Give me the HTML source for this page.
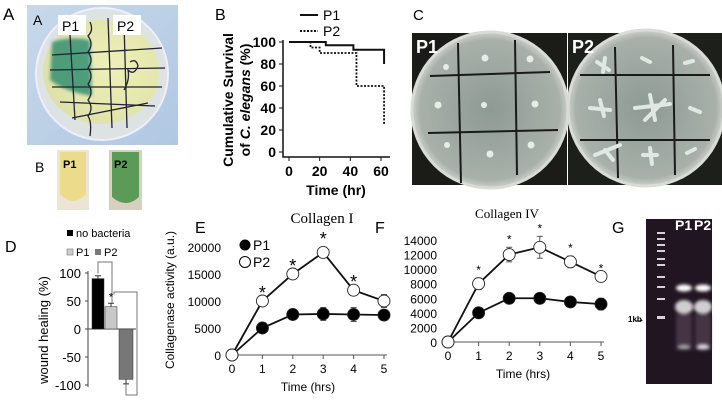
<!DOCTYPE html>
<html><head><meta charset="utf-8"><style>
html,body{margin:0;padding:0;background:#fff;width:722px;height:400px;overflow:hidden}
svg{display:block;font-family:"Liberation Sans",sans-serif}
.serif{font-family:"Liberation Serif",serif}
</style></head><body>
<svg id="fig" width="722" height="400" viewBox="0 0 722 400" xmlns="http://www.w3.org/2000/svg">
<defs>
<radialGradient id="agarA" cx="0.6" cy="0.45" r="0.6"><stop offset="0" stop-color="#eef0b8"/><stop offset="1" stop-color="#dfe2a8"/></radialGradient>
<linearGradient id="bgA" x1="0" y1="0" x2="1" y2="1"><stop offset="0" stop-color="#c8d8ea"/><stop offset="1" stop-color="#b0c8e2"/></linearGradient>
<radialGradient id="plateC" cx="0.5" cy="0.5" r="0.5"><stop offset="0" stop-color="#8e9a94"/><stop offset="0.9" stop-color="#a9b0aa"/><stop offset="1" stop-color="#cdd0ca"/></radialGradient>
<filter id="blur1"><feGaussianBlur stdDeviation="1.5"/></filter>
</defs>

<g>
<text x="3" y="20" font-size="17">A</text>
<rect x="27" y="5" width="151" height="140" fill="url(#bgA)"/>
<circle cx="102" cy="74" r="66" fill="#dde3e2" stroke="#eef" stroke-width="2"/>
<ellipse cx="101" cy="72" rx="58" ry="52" fill="url(#agarA)"/>
<path d="M52,42 Q70,36 90,40 L92,96 Q65,92 50,80 Z" fill="#2a8a6e" opacity="0.8" filter="url(#blur1)"/>
<g stroke="#223" stroke-width="1.3" fill="none">
<line x1="52" y1="55" x2="162" y2="48"/><line x1="50" y1="70" x2="165" y2="68"/><line x1="52" y1="87" x2="162" y2="87"/><line x1="60" y1="102" x2="155" y2="106"/><line x1="72" y1="118" x2="148" y2="103"/>
<line x1="70" y1="35" x2="75" y2="120"/><line x1="108" y1="18" x2="112" y2="128"/><line x1="124" y1="23" x2="127" y2="128"/>
<path d="M90,22 q4,8 -2,14 q6,8 0,16 q6,8 0,16 q6,8 0,16 q6,8 0,16 q6,8 0,16 q4,6 2,20"/>
<path d="M130,62 q6,-4 8,4 q-4,10 -10,4 q2,10 -4,20"/>
</g>
<text x="33" y="25" font-size="14">A</text>
<rect x="58" y="15" width="28" height="20" fill="#fff"/><text x="62" y="31" font-size="14">P1</text>
<rect x="113" y="15" width="28" height="20" fill="#fff"/><text x="117" y="31" font-size="14">P2</text>
</g>
<g>
<text x="35" y="172" font-size="14">B</text>
<rect x="57" y="150" width="32" height="60" fill="#ece4d4"/>
<path d="M60,152 h26 v42 q-13,14 -26,0 Z" fill="#eddb8c"/>
<text x="63" y="168" font-size="11" font-weight="bold">P1</text>
<rect x="109" y="150" width="33" height="60" fill="#d8cfc0"/>
<path d="M112,152 h27 v45 q-13,12 -27,0 Z" fill="#5c9a58"/>
<text x="114" y="168" font-size="11" font-weight="bold">P2</text>
</g>

<g id="chartB">
<text x="215" y="20" font-size="16">B</text>
<text transform="translate(233,100) rotate(-90)" text-anchor="middle" font-size="14" font-weight="bold">Cumulative Survival</text>
<text transform="translate(250,100) rotate(-90)" text-anchor="middle" font-size="14" font-weight="bold">of <tspan font-style="italic">C. elegans</tspan> (%)</text>
<text x="336" y="195" text-anchor="middle" font-size="14" font-weight="bold">Time (hr)</text>
<line x1="300" y1="15" x2="318" y2="15" stroke="#111" stroke-width="2"/>
<text x="323" y="20" font-size="14">P1</text>
<line x1="300" y1="31" x2="318" y2="31" stroke="#111" stroke-width="2" stroke-dasharray="2,1.5"/>
<text x="323" y="36" font-size="14">P2</text>
</g>

<g>
<text x="413" y="20" font-size="15">C</text>
<rect x="412" y="33" width="155" height="152" fill="#1b1b17"/>
<rect x="568" y="33" width="154" height="152" fill="#1d1f1a"/>
<circle cx="490" cy="110" r="78" fill="url(#plateC)" stroke="#d8dcd6" stroke-width="3"/>
<circle cx="646" cy="108" r="78" fill="url(#plateC)" stroke="#d8dcd6" stroke-width="3"/>
<g stroke="#1a1a1a" stroke-width="2">
<line x1="430" y1="76" x2="550" y2="72"/><line x1="428" y1="133" x2="558" y2="130"/><line x1="458" y1="43" x2="461" y2="183"/><line x1="515" y1="40" x2="517" y2="175"/>
<line x1="580" y1="75" x2="710" y2="75"/><line x1="580" y1="140" x2="710" y2="140"/><line x1="615" y1="47" x2="618" y2="178"/><line x1="673" y1="45" x2="675" y2="175"/>
</g>
<g fill="#e8ece6">
<circle cx="446" cy="67" r="3"/><circle cx="485" cy="58" r="3.5"/><circle cx="530" cy="59" r="3.5"/><circle cx="438" cy="105" r="3.5"/><circle cx="484" cy="105" r="3"/><circle cx="535" cy="104" r="3.5"/><circle cx="447" cy="145" r="3"/><circle cx="490" cy="154" r="3.5"/><circle cx="531" cy="145" r="3.5"/>
</g>
<g stroke="#dfe8e4" stroke-width="4" stroke-linecap="round">
<path d="M597,62 l12,8 M605,58 l-2,14"/><path d="M642,58 l8,4"/><path d="M685,63 l8,-2"/>
<path d="M590,108 l20,2 M600,100 l4,16"/><path d="M635,108 l35,-4 M650,95 l5,25 M645,120 l20,-20"/><path d="M690,108 l10,4"/>
<path d="M595,155 l25,-10 M605,150 l8,10"/><path d="M643,155 l14,0 M650,148 l2,16"/><path d="M687,153 l8,-4"/>
</g>
<text x="416" y="53" font-size="18" font-weight="bold" fill="#fff">P1</text>
<text x="572" y="53" font-size="18" font-weight="bold" fill="#fff">P2</text>
</g>

<g id="chartD">
<text x="5" y="252" font-size="16">D</text>
<text transform="translate(48,330) rotate(-90)" text-anchor="middle" font-size="13">wound healing (%)</text>
<rect x="67" y="230" width="6" height="6" fill="#000"/><text x="76" y="237" font-size="11">no bacteria</text>
<rect x="67" y="249" width="6" height="6" fill="#ccc" stroke="#777" stroke-width="0.6"/><text x="76" y="256" font-size="11">P1</text>
<rect x="95" y="249" width="6" height="6" fill="#777"/><text x="104" y="256" font-size="11">P2</text>
</g>

<g id="chartE">
<text x="195" y="233" font-size="16">E</text>
<text x="322" y="223" text-anchor="middle" font-size="15" class="serif">Collagen I</text>
<text transform="translate(174,300) rotate(-90)" text-anchor="middle" font-size="12">Collagenase activity (a.u.)</text>
<text x="308" y="391" text-anchor="middle" font-size="12">Time (hrs)</text>
<circle cx="245" cy="245" r="5.5" fill="#000"/><text x="253" y="250" font-size="14">P1</text>
<circle cx="245" cy="262" r="5.5" fill="#fff" stroke="#000"/><text x="253" y="267" font-size="14">P2</text>
</g>

<g id="chartF">
<text x="375" y="233" font-size="16">F</text>
<text x="507" y="218" text-anchor="middle" font-size="13" class="serif">Collagen IV</text>
<text x="523" y="378" text-anchor="middle" font-size="12">Time (hrs)</text>
</g>

<g>
<text x="612" y="233" font-size="16">G</text>
<rect x="646" y="219" width="66" height="165" fill="#221522"/>
<g fill="#d8d0da">
<rect x="657" y="232" width="8" height="2"/><rect x="657" y="238" width="8" height="2"/><rect x="657" y="244" width="8" height="2"/><rect x="657" y="250" width="8" height="2"/><rect x="657" y="258" width="8" height="2"/><rect x="657" y="264" width="8" height="2"/><rect x="657" y="276" width="8" height="2"/><rect x="657" y="286" width="8" height="2"/><rect x="657" y="298" width="8" height="2"/><rect x="657" y="316" width="8" height="3"/>
</g>
<g filter="url(#blur1)">
<ellipse cx="684" cy="288" rx="8" ry="3.5" fill="#fff"/><ellipse cx="703" cy="288" rx="8" ry="3.5" fill="#fff"/>
<ellipse cx="684" cy="307" rx="9" ry="7" fill="#eee" opacity="0.85"/><ellipse cx="703" cy="307" rx="9" ry="7" fill="#eee" opacity="0.85"/>
<rect x="676" y="315" width="16" height="35" fill="#5a4a5c" opacity="0.6"/><rect x="695" y="315" width="16" height="35" fill="#5a4a5c" opacity="0.6"/>
<ellipse cx="684" cy="347" rx="6" ry="2" fill="#aaa"/><ellipse cx="703" cy="347" rx="6" ry="2.5" fill="#ddd"/>
</g>
<text x="675" y="230" font-size="14" font-weight="bold" fill="#fff">P1</text><text x="694" y="230" font-size="14" font-weight="bold" fill="#fff">P2</text>
<text x="628" y="322" font-size="8" font-weight="bold">1kb</text>
<text x="645" y="322" font-size="11" text-anchor="end">→</text>
</g>
</svg>
<script>
const NS='http://www.w3.org/2000/svg';
function mk(parent,tag,attrs){const e=document.createElementNS(NS,tag);for(const k in attrs)e.setAttribute(k,attrs[k]);parent.appendChild(e);return e;}

const survTicksX=[0,20,40,60];
const survTicksY=[0,20,40,60,80,100];
const p1StepTimes=[0,24,42,62];
const p1StepVals=[100,97,93,80];
const p2StepTimes=[0,14,20,44,62];
const p2StepVals=[100,95,90,60,25];

const woundCats=['no bacteria','P1','P2'];
const woundVals=[90,40,-90];
const woundErr=[5,6,8];
const woundTicks=[100,50,0,-50,-100];

const timeHrs=[0,1,2,3,4,5];
const colIP1=[0,5000,7500,7600,7500,7400];
const colIP2=[0,10000,15000,19000,12000,10000];
const colIP1Err=[0,0,600,1200,1300,500];
const colIP2Err=[0,0,0,1000,0,1200];
const colISig=[false,true,true,true,true,false];
const colITicks=[0,5000,10000,15000,20000];

const colIVP1=[0,4000,6000,6000,5500,5200];
const colIVP2=[0,8000,12000,13000,11000,9000];
const colIVP1Err=[0,300,500,700,400,800];
const colIVP2Err=[0,800,1000,1500,800,0];
const colIVSig=[false,true,true,true,true,true];
const colIVTicks=[0,2000,4000,6000,8000,10000,12000,14000];

(function(){
 const g=document.getElementById('chartB');
 const x=v=>289+v*(381-289)/60, y=v=>152-v*(152-42)/100;
 const ax=mk(g,'path',{d:'M283,40 V157 H390',stroke:'#111','stroke-width':1.5,fill:'none'});
 
 survTicksX.forEach(t=>{const tx=mk(g,'text',{x:x(t),y:176,'text-anchor':'middle','font-size':14,'font-weight':'bold'});tx.textContent=t;
  
  mk(g,'line',{x1:x(t),y1:157,x2:x(t),y2:161,stroke:'#111'});});
 survTicksY.forEach(t=>{const tx=mk(g,'text',{x:276,y:y(t)+5,'text-anchor':'end','font-size':14,'font-weight':'bold'});tx.textContent=t;
  
  mk(g,'line',{x1:279,y1:y(t),x2:283,y2:y(t),stroke:'#111'});});
 function step(ts,vs){let d='M'+x(ts[0])+','+y(vs[0]);for(let i=1;i<ts.length;i++){d+=' H'+x(ts[i])+' V'+y(vs[i]);}return d;}
 const l1=mk(g,'path',{d:step(p1StepTimes,p1StepVals),stroke:'#111','stroke-width':2,fill:'none'});
 
 const l2=mk(g,'path',{d:step(p2StepTimes,p2StepVals),stroke:'#111','stroke-width':1.8,fill:'none','stroke-dasharray':'2,1.5'});
 
})();

(function(){
 const g=document.getElementById('chartD');
 const y=v=>329-v*(329-273)/100;
 mk(g,'line',{x1:88,y1:y(100)-2,x2:88,y2:y(-100)+2,stroke:'#444'});
 mk(g,'line',{x1:88,y1:y(0),x2:136,y2:y(0),stroke:'#444'});
 woundTicks.forEach(t=>{const tx=mk(g,'text',{x:81,y:y(t)+5,'text-anchor':'end','font-size':13});tx.textContent=t;
  
  mk(g,'line',{x1:85,y1:y(t),x2:88,y2:y(t),stroke:'#444'});});
 const fills=['#000','#c8c8c8','#777'];const bx=[92,105,119];const bw=[12,12,14];
 woundVals.forEach((v,i)=>{const top=Math.min(y(v),y(0)),h=Math.abs(y(v)-y(0));
  const r=mk(g,'rect',{x:bx[i],y:top,width:bw[i],height:h,fill:fills[i],stroke:'#333','stroke-width':0.5});
  
  const cx=bx[i]+bw[i]/2,ey=y(v+(v>=0?woundErr[i]:-woundErr[i]));
  mk(g,'line',{x1:cx,y1:y(v),x2:cx,y2:ey,stroke:'#333'});mk(g,'line',{x1:cx-3,y1:ey,x2:cx+3,y2:ey,stroke:'#333'});});
 mk(g,'path',{d:'M98,'+(y(woundVals[0])-5)+' V262 H112 V'+(y(woundVals[1])-4),stroke:'#777',fill:'none'});
 mk(g,'path',{d:'M114,'+(y(woundVals[1])-12)+' V292 H137 V395 H126 V'+(y(woundVals[2])+5),stroke:'#777',fill:'none'});
 const s=mk(g,'text',{x:111,y:y(woundVals[1])-6,'text-anchor':'middle','font-size':11});s.textContent='*';
})();

function lineChart(g,cfg){
 const x=v=>cfg.x0+v*(cfg.x1-cfg.x0)/5, y=v=>cfg.y0-v*(cfg.y0-cfg.yTop)/cfg.ymax;
 mk(g,'line',{x1:cfg.x0-5,y1:cfg.y0,x2:cfg.x1+3,y2:cfg.y0,stroke:'#555'});
 timeHrs.forEach(t=>{mk(g,'line',{x1:x(t),y1:cfg.y0,x2:x(t),y2:cfg.y0+4,stroke:'#555'});
  const tx=mk(g,'text',{x:x(t),y:cfg.y0+18,'text-anchor':'middle','font-size':12});tx.textContent=t;
  });
 cfg.ticks.forEach(t=>{const tx=mk(g,'text',{x:cfg.yLabX,y:y(t)+5,'text-anchor':'end','font-size':cfg.fs});tx.textContent=t;
  });
 [[cfg.p1,cfg.p1e,'#000','p1'],[cfg.p2,cfg.p2e,'#fff','p2']].forEach(([vals,err,fill,nm])=>{
  const ln=mk(g,'polyline',{points:vals.map((v,i)=>x(timeHrs[i])+','+y(v)).join(' '),fill:'none',stroke:'#111','stroke-width':1.8});
  
  vals.forEach((v,i)=>{if(err[i]>0){mk(g,'line',{x1:x(timeHrs[i]),y1:y(v-err[i]),x2:x(timeHrs[i]),y2:y(v+err[i]),stroke:'#555'});
    mk(g,'line',{x1:x(timeHrs[i])-3,y1:y(v-err[i]),x2:x(timeHrs[i])+3,y2:y(v-err[i]),stroke:'#555'});
    mk(g,'line',{x1:x(timeHrs[i])-3,y1:y(v+err[i]),x2:x(timeHrs[i])+3,y2:y(v+err[i]),stroke:'#555'});}});
  vals.forEach((v,i)=>{const c=mk(g,'circle',{cx:x(timeHrs[i]),cy:y(v),r:cfg.r,fill:(i===0?'#fff':fill),stroke:'#222','stroke-width':0.9});
   });
 });
 cfg.p2.forEach((v,i)=>{if(cfg.sig[i]){const s=mk(g,'text',{x:x(timeHrs[i]),y:y(v+cfg.p2e[i])-cfg.sOff,'text-anchor':'middle','font-size':cfg.sfs});s.textContent='*';
  }});
}
lineChart(document.getElementById('chartE'),{id:'collagen-i',x0:232,x1:384,y0:355,yTop:247,ymax:20000,ticks:colITicks,yLabX:221,fs:12,
 p1:colIP1,p2:colIP2,p1e:colIP1Err,p2e:colIP2Err,sig:colISig,r:6,sOff:2,sfs:18});
lineChart(document.getElementById('chartF'),{id:'collagen-iv',x0:448,x1:601,y0:342,yTop:240,ymax:14000,ticks:colIVTicks,yLabX:437,fs:12,
 p1:colIVP1,p2:colIVP2,p1e:colIVP1Err,p2e:colIVP2Err,sig:colIVSig,r:6,sOff:4,sfs:12});
</script>
</body></html>
